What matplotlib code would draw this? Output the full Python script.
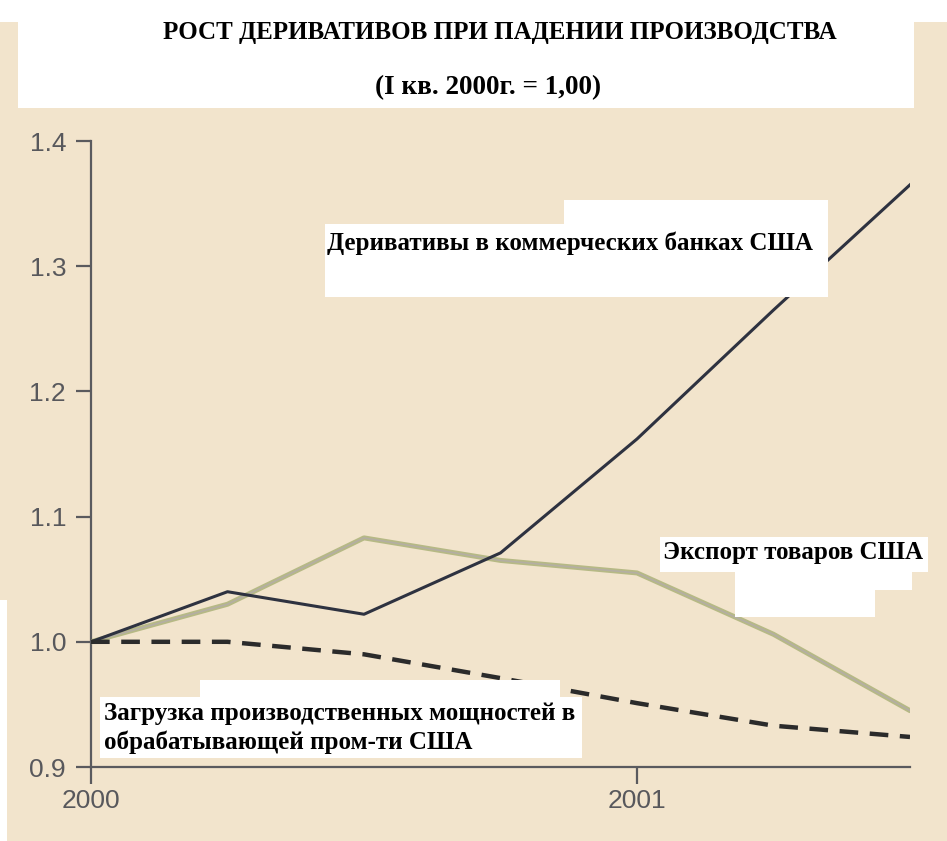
import matplotlib
matplotlib.use("Agg")
import matplotlib.pyplot as plt
from matplotlib.patches import Rectangle

# ---- data ----
quarters = [0, 1, 2, 3, 4, 5, 6]          # I кв. 2000 ... III кв. 2001
derivatives = [1.00, 1.04, 1.022, 1.071, 1.162, 1.265, 1.365]
exports = [1.00, 1.03, 1.083, 1.065, 1.055, 1.006, 0.945]
capacity = [1.00, 1.00, 0.99, 0.971, 0.951, 0.933, 0.924]
xtick_pos = [0, 4]
xtick_labels = ["2000", "2001"]
ytick_vals = [0.9, 1.0, 1.1, 1.2, 1.3, 1.4]
ytick_labels = ["0.9", "1.0", "1.1", "1.2", "1.3", "1.4"]

title = "РОСТ ДЕРИВАТИВОВ ПРИ ПАДЕНИИ ПРОИЗВОДСТВА"
subtitle = "(I кв. 2000г. = 1,00)"
lbl_deriv = "Деривативы в коммерческих банках США"
lbl_exp = "Экспорт товаров США"
lbl_cap = "Загрузка производственных мощностей в\nобрабатывающей пром-ти США"

W, H = 947, 841
BEIGE = "#f2e4cc"
fig = plt.figure(figsize=(W / 100, H / 100), dpi=100, facecolor=BEIGE)

def px_rect(x0, y0, x1, y1, color="white", z=0):
    # pixel coords measured from top-left
    r = Rectangle((x0 / W, 1 - y1 / H), (x1 - x0) / W, (y1 - y0) / H,
                  transform=fig.transFigure, facecolor=color, edgecolor="none",
                  zorder=z)
    fig.patches.append(r)

# white paper areas
px_rect(0, 0, W, 22)
px_rect(18, 0, 914, 108)
px_rect(0, 600, 7, H)

ax = fig.add_axes([91 / W, 1 - 767 / H, 819 / W, 626 / H])
ax.set_facecolor("none")
ax.set_xlim(0, 6)
ax.set_ylim(0.9, 1.4)

grey = "#5a5a5e"
for s in ["top", "right"]:
    ax.spines[s].set_visible(False)
for s in ["left", "bottom"]:
    ax.spines[s].set_color(grey)
    ax.spines[s].set_linewidth(1.6)

ax.set_yticks(ytick_vals)
ax.set_yticklabels(ytick_labels)
ax.set_xticks(xtick_pos)
ax.set_xticklabels(xtick_labels)
ax.tick_params(axis="y", colors=grey, labelcolor="#58585c", length=11,
               width=1.6, direction="out", labelsize=19, pad=7)
ax.tick_params(axis="x", colors=grey, labelcolor="#58585c", length=12,
               width=1.6, direction="out", labelsize=19, pad=4)
for lab in ax.get_xticklabels() + ax.get_yticklabels():
    lab.set_family(["Liberation Sans", "DejaVu Sans"])

ax.plot(quarters, exports, color="#b6b985", lw=3.6, solid_capstyle="round",
        zorder=3)
ax.plot(quarters, exports, color="#b3a6bd", lw=1.2, alpha=0.55, zorder=3)
ax.plot(quarters, derivatives, color="#2e3240", lw=2.2, zorder=4)
ax.plot(quarters, capacity, color="#2b2b2b", lw=3.2, dashes=(4.2, 2.6),
        zorder=4)

serif = ["Liberation Serif", "DejaVu Serif"]
fig.text(500 / W, 1 - 32 / H, title, ha="center", va="center",
         fontsize=18, fontweight="bold", family=serif, color="black")
fig.text(488 / W, 1 - 88 / H, subtitle, ha="center", va="center",
         fontsize=19.5, fontweight="bold", family=serif, color="black")

# label boxes
px_rect(325, 224, 828, 297, z=5)
px_rect(564, 200, 828, 226, z=5)
fig.text(327 / W, 1 - 243 / H, lbl_deriv, ha="left", va="center",
         fontsize=18, fontweight="bold", family=serif, color="black", zorder=6)

px_rect(660, 537, 928, 572, z=5)
px_rect(735, 570, 912, 590, z=5)
px_rect(735, 588, 875, 617, z=5)
fig.text(663 / W, 1 - 553 / H, lbl_exp, ha="left", va="center",
         fontsize=18, fontweight="bold", family=serif, color="black", zorder=6)

px_rect(100, 697, 582, 758, z=5)
px_rect(200, 680, 560, 700, z=5)
fig.text(104 / W, 1 - 728 / H, lbl_cap, ha="left", va="center",
         fontsize=18, fontweight="bold", family=serif, color="black",
         linespacing=1.3, zorder=6)

fig.savefig("out.png", dpi=100, facecolor=BEIGE)
